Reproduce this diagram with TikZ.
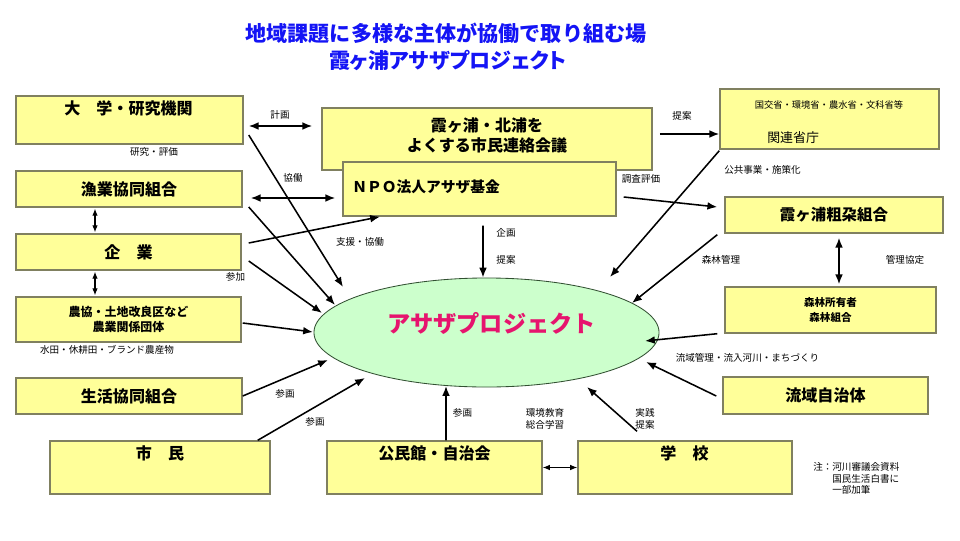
\documentclass[tikz,border=0pt]{standalone}
\usepackage{fontspec}
\setmainfont{Noto Sans CJK JP}
\usepackage{tikz}
\usetikzlibrary{shapes}
\usetikzlibrary{arrows.meta}
\definecolor{boxFill}{RGB}{255,255,153}
\definecolor{boxLine}{RGB}{128,128,96}
\definecolor{ellFill}{RGB}{204,255,204}
\definecolor{ellLine}{RGB}{50,80,50}
\definecolor{titleBlue}{RGB}{20,20,245}
\definecolor{projRed}{RGB}{230,20,110}
\tikzstyle{yBox} = [draw=boxLine, fill=boxFill, line width=1pt, inner sep=0pt]
\tikzstyle{bigTxt} = [inner sep=0pt, font=\bfseries\fontsize{11.4}{14}\selectfont]
\tikzstyle{smTxt} = [inner sep=0pt, font=\fontsize{6.8}{8.5}\selectfont]
\tikzstyle{arr} = [line width=1.1pt, -{Latex[length=7pt,width=5.5pt]}]
\tikzstyle{dArr} = [line width=1.1pt, {Latex[length=7pt,width=5.5pt]}-{Latex[length=7pt,width=5.5pt]}]
\tikzstyle{dArrS} = [line width=0.8pt, {Latex[length=5pt,width=4pt]}-{Latex[length=5pt,width=4pt]}]

\begin{document}
\begin{tikzpicture}[x=0.025cm, y=-0.025cm]
  \useasboundingbox (0,0) rectangle (960,540);
  \node (t1) at (446,33) [inner sep=0pt, text=titleBlue, font=\bfseries\fontsize{15}{18}\selectfont] {地域課題に多様な主体が協働で取り組む場};
  \node (t2) at (448,60) [inner sep=0pt, text=titleBlue, font=\bfseries\fontsize{15}{18}\selectfont\addfontfeature{RawFeature=+palt}] {霞ヶ浦アサザプロジェクト};
  % left column
  \node (dg) at (129.5,120) [yBox, minimum width=5.675cm, minimum height=1.2cm] {};
  \node (dgT) at (128.5,108) [bigTxt] {大　学・研究機関};
  \node (gk) at (129,189) [yBox, bigTxt, minimum width=5.65cm, minimum height=0.9cm] {漁業協同組合};
  \node (kg) at (128.5,252) [yBox, bigTxt, minimum width=5.625cm, minimum height=0.9cm] {企　業};
  \node (nk) at (128.5,319.5) [yBox, minimum width=5.625cm, minimum height=1.125cm, align=center,
    font=\bfseries\fontsize{8.5}{10.7}\selectfont] {農協・土地改良区など\\農業関係団体};
  \node (sk) at (129,396) [yBox, bigTxt, minimum width=5.65cm, minimum height=0.9cm] {生活協同組合};
  % bottom row
  \node (sm) at (160,467.5) [yBox, minimum width=5.5cm, minimum height=1.325cm] {};
  \node (smT) at (160,453) [bigTxt] {市　民};
  \node (km) at (434.5,467.5) [yBox, minimum width=5.375cm, minimum height=1.325cm] {};
  \node (kmT) at (434.5,453) [bigTxt] {公民館・自治会};
  \node (gs) at (685,467.5) [yBox, minimum width=5.35cm, minimum height=1.325cm] {};
  \node (gsT) at (684.5,453) [bigTxt] {学　校};
  % top middle
  \node (rk) at (487,139) [yBox, minimum width=8.25cm, minimum height=1.55cm] {};
  \node (rkT) at (487,135) [bigTxt, align=center, font=\bfseries\fontsize{11.4}{14.2}\selectfont] {霞ヶ浦・北浦を\\よくする市民連絡会議};
  \node (npo) at (479.5,189) [yBox, minimum width=6.825cm, minimum height=1.35cm] {};
  \node (npoT) at (352,187) [anchor=west, inner sep=0pt, font=\bfseries\fontsize{10.5}{13}\selectfont] {ＮＰＯ法人アサザ基金};
  % right column
  \node (ks) at (829.5,119) [yBox, minimum width=5.475cm, minimum height=1.5cm] {};
  \node (ksT1) at (829,105) [inner sep=0pt, font=\fontsize{6.6}{8}\selectfont] {国交省・環境省・農水省・文科省等};
  \node (ksT2) at (767,138) [anchor=west, inner sep=0pt, font=\fontsize{9.2}{11}\selectfont] {関連省庁};
  \node (sd) at (834,215) [yBox, bigTxt, minimum width=5.45cm, minimum height=0.9cm, font=\bfseries\fontsize{11}{13}\selectfont] {霞ヶ浦粗朶組合};
  \node (sr) at (830.5,310) [yBox, minimum width=5.275cm, minimum height=1.15cm, align=center,
    font=\bfseries\fontsize{7.5}{10}\selectfont] {森林所有者\\森林組合};
  \node (ry) at (825.5,395.5) [yBox, bigTxt, minimum width=5.125cm, minimum height=0.925cm] {流域自治体};
  % project
  \node (ap) at (486.5,332.5) [ellipse, draw=ellLine, fill=ellFill, line width=0.6pt, inner sep=0pt,
    minimum width=8.625cm, minimum height=2.725cm] {};
  \node (apT) at (491.5,323) [inner sep=0pt, text=projRed, font=\bfseries\fontsize{16.5}{20}\selectfont] {アサザプロジェクト};
  % connectors
  \draw [dArr] ([shift={(5,6)}]dg.east) -- ([shift={(-9,-13)}]rk.west);
  \draw [dArr] ([shift={(8,9)}]gk.east) -- ([shift={(-7,9)}]npo.west);
  \draw [arr] ([shift={(5,15)}]dg.east) -- ([shift={(-143.5,-45.5)}]ap.center);
  \draw [arr] ([shift={(6,18)}]gk.east) -- ([shift={(-151.5,-27.5)}]ap.center);
  \draw [arr] ([shift={(7,-9)}]kg.east) -- ([shift={(-99.5,0)}]npo.south);
  \draw [arr] ([shift={(7,9)}]kg.east) -- ([shift={(-164.5,-19.5)}]ap.center);
  \draw [arr] ([shift={(1,3.5)}]nk.east) -- ([shift={(-173.5,-0.5)}]ap.center);
  \draw [arr] (sk.east) -- ([shift={(-158.5,27.5)}]ap.center);
  \draw [arr] ([shift={(-13,0)}]sm.north east) -- ([shift={(-121.5,45.5)}]ap.center);
  \draw [arr] ([shift={(11.5,0)}]km.north) -- ([shift={(-40.5,53.5)}]ap.center);
  \draw [dArrS] (km.east) -- (gs.west);
  \draw [arr] ([shift={(-48,-9)}]gs.north) -- ([shift={(100.5,54.5)}]ap.center);
  \draw [arr] ([shift={(3.5,9)}]npo.south) -- ([shift={(-3.5,0)}]ap.north);
  \draw [arr] ([shift={(7,8)}]npo.east) -- ([shift={(-7,-8)}]sd.west);
  \draw [arr] ([shift={(7,-5)}]rk.east) -- ([shift={(0,15)}]ks.west);
  \draw [arr] ([shift={(0,1)}]ks.south west) -- ([shift={(123.5,-55.5)}]ap.center);
  \draw [arr] ([shift={(-7,1)}]sd.south west) -- ([shift={(145.5,-29.5)}]ap.center);
  \draw [dArr] ([shift={(5,4)}]sd.south) -- ([shift={(8.5,-2)}]sr.north);
  \draw [arr] ([shift={(-7,0)}]sr.south west) -- ([shift={(158.5,8.5)}]ap.center);
  \draw [arr] ([shift={(-6,0.5)}]ry.west) -- ([shift={(159.5,29.5)}]ap.center);
  \draw [dArrS] ([shift={(-34,1)}]gk.south) -- ([shift={(-33.5,-1)}]kg.north);
  \draw [dArrS] ([shift={(-33.5,1)}]kg.south) -- ([shift={(-33.5,-1)}]nk.north);
  % labels
  \node (l1) at (280,115) [smTxt] {計画};
  \node (l2) at (154,152) [smTxt] {研究・評価};
  \node (l3) at (293,178) [smTxt] {協働};
  \node (l4) at (360,242) [smTxt] {支援・協働};
  \node (l5) at (235.5,277) [smTxt] {参加};
  \node (l6) at (107,350) [smTxt] {水田・休耕田・ブランド農産物};
  \node (l7) at (285,394) [smTxt] {参画};
  \node (l8) at (315,422) [smTxt] {参画};
  \node (l9) at (462.5,413) [smTxt] {参画};
  \node (l10) at (545,419) [smTxt, align=center] {環境教育\\総合学習};
  \node (l11) at (645,419) [smTxt, align=center] {実践\\提案};
  \node (l12) at (506,233) [smTxt] {企画};
  \node (l13) at (506,260) [smTxt] {提案};
  \node (l14) at (682,116) [smTxt] {提案};
  \node (l15) at (762.5,170) [smTxt] {公共事業・施策化};
  \node (l16) at (641,179) [smTxt] {調査評価};
  \node (l17) at (721,260) [smTxt] {森林管理};
  \node (l18) at (905,260) [smTxt] {管理協定};
  \node (l19) at (747.5,358) [smTxt] {流域管理・流入河川・まちづくり};
  \node (n1) at (813,467) [smTxt, anchor=west] {注：河川審議会資料};
  \node (n2) at (832,479) [smTxt, anchor=west] {国民生活白書に};
  \node (n3) at (832,490) [smTxt, anchor=west] {一部加筆};
\end{tikzpicture}
\end{document}
